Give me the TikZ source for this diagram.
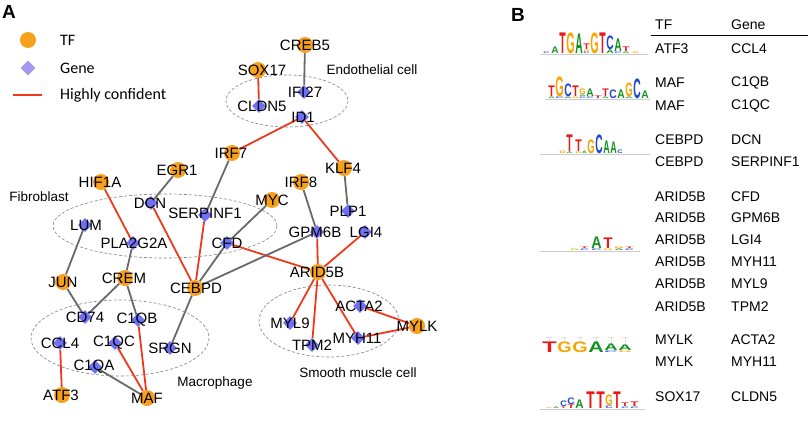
\documentclass[tikz,border=0pt]{standalone}
\usepackage{fontspec}
\setmainfont{Liberation Sans}
\newfontfamily\legfont{Carlito}
\usetikzlibrary{shapes.geometric,backgrounds}
\definecolor{tforange}{RGB}{247,160,28}
\definecolor{genecol}{RGB}{112,112,245}
\definecolor{legdiam}{RGB}{165,150,240}
\definecolor{hcred}{RGB}{238,58,28}
\definecolor{edgegray}{RGB}{105,105,105}
\definecolor{lA}{RGB}{20,145,30}
\definecolor{lC}{RGB}{30,70,210}
\definecolor{lG}{RGB}{247,165,0}
\definecolor{lT}{RGB}{232,25,25}
\newcounter{lgc}
\newcommand\LL[6]{\stepcounter{lgc}\node[anchor=base west,inner sep=0pt,outer sep=0pt,text=#5] (lg\thelgc) at (#1+0.3,#2-0.2) {\resizebox{\dimexpr #3pt-0.6pt\relax}{\dimexpr #4pt-0.4pt\relax}{\bfseries #6}};}
\newcommand\TFn[4]{\node[tf] (#1) at (#2) {}; \node[lbl] (#1-l) at (#3) {#4};}
\newcommand\GNn[4]{\node[gene] (#1) at (#2) {}; \node[lbl] (#1-l) at (#3) {#4};}
\tikzset{
  tf/.style={circle,fill=tforange,minimum size=16pt,inner sep=0pt},
  gene/.style={diamond,fill=genecol,minimum size=14pt,inner sep=0pt},
  lbl/.style={font=\fontsize{15}{15}\selectfont,inner sep=0pt},
  reg/.style={font=\fontsize{13.5}{14}\selectfont,inner sep=0pt},
  hc/.style={draw=hcred,line width=1.8pt},
  gr/.style={draw=edgegray,line width=1.8pt},
  cell/.style={draw=gray,dash pattern=on 3pt off 2pt,line width=0.6pt},
  tab/.style={font=\fontsize{14}{14}\selectfont,inner sep=0pt,anchor=west},
  axisl/.style={draw=gray!40,line width=0.7pt},
}
\begin{document}
\begin{tikzpicture}[x=1pt,y=-1pt]
\useasboundingbox (0,0) rectangle (809,423);
% panel letters
\node[font=\fontsize{19}{19}\selectfont\bfseries,inner sep=0pt,anchor=west] (pA) at (2,12) {A};
\node[font=\fontsize{19}{19}\selectfont\bfseries,inner sep=0pt,anchor=west] (pB) at (511,15) {B};
% legend
\node[tf] (legtf) at (28,40) {};
\node[diamond,fill=legdiam,minimum size=15pt,inner sep=0pt] (leggene) at (28,68) {};
\coordinate (legl1) at (13,95);
\coordinate (legl2) at (42,95);
\draw[hc,line width=2.2pt] (legl1) -- (legl2);
\node[font=\legfont\fontsize{16}{16}\selectfont,inner sep=0pt,anchor=west] (legt1) at (60,40) {TF};
\node[font=\legfont\fontsize{16}{16}\selectfont,inner sep=0pt,anchor=west] (legt2) at (60,68) {Gene};
\node[font=\legfont\fontsize{16}{16}\selectfont,inner sep=0pt,anchor=west] (legt3) at (60,95) {Highly confident};
% cell ellipses
\draw[cell] (287,101) ellipse [x radius=61, y radius=26];
\draw[cell] (165,226) ellipse [x radius=112, y radius=32];
\draw[cell] (120,338) ellipse [x radius=89, y radius=38];
\draw[cell] (329,321) ellipse [x radius=70, y radius=36];
\node[reg] (rEndo) at (372,70) {Endothelial cell};
\node[reg] (rFib) at (39,197) {Fibroblast};
\node[reg] (rMac) at (215,383) {Macrophage};
\node[reg] (rSmc) at (358,373) {Smooth muscle cell};
% nodes
\TFn{creb5}{305,45}{305,45}{CREB5}
\TFn{sox17}{258,70}{262,70}{SOX17}
\GNn{cldn5}{259,106}{262,106}{CLDN5}
\GNn{ifi27}{304,92}{305,92}{IFI27}
\GNn{id1}{302,117}{303,117}{ID1}
\TFn{irf7}{232,153}{231,153}{IRF7}
\TFn{egr1}{178,170}{177,170}{EGR1}
\TFn{hif1a}{101,182}{100,182}{HIF1A}
\TFn{klf4}{344,168}{343,168}{KLF4}
\TFn{irf8}{301,182}{301,182}{IRF8}
\TFn{myc}{272,200}{272,200}{MYC}
\GNn{dcn}{151,203}{150,203}{DCN}
\GNn{serpinf1}{205,215}{205,213}{SERPINF1}
\GNn{plp1}{348,211}{348,211}{PLP1}
\GNn{lum}{85,225}{86,225}{LUM}
\GNn{pla2g2a}{133,243}{134,243}{PLA2G2A}
\GNn{cfd}{227,243}{227,243}{CFD}
\GNn{gpm6b}{317,232}{315,232}{GPM6B}
\GNn{lgi4}{365,232}{366,232}{LGI4}
\TFn{arid5b}{318,272}{317,272}{ARID5B}
\TFn{jun}{63,282}{63,282}{JUN}
\TFn{crem}{125,278}{124,278}{CREM}
\TFn{cebpd}{195,288}{196,288}{CEBPD}
\GNn{cd74}{85,317}{85,317}{CD74}
\GNn{c1qb}{138,320}{137,320}{C1QB}
\GNn{acta2}{360,306}{359,306}{ACTA2}
\TFn{mylk}{417,326}{417,326}{MYLK}
\GNn{myl9}{290,323}{290,323}{MYL9}
\GNn{myh11}{358,338}{357,338}{MYH11}
\GNn{tpm2}{312,345}{312,345}{TPM2}
\GNn{ccl4}{60,343}{60,343}{CCL4}
\GNn{c1qc}{115,343}{114,343}{C1QC}
\GNn{srgn}{170,348}{170,348}{SRGN}
\GNn{c1qa}{95,367}{94,367}{C1QA}
\TFn{atf3}{62,395}{61,395}{ATF3}
\TFn{maf}{147,398}{147,398}{MAF}
% edges
\begin{pgfonlayer}{background}
\draw[hc] (sox17) -- (cldn5);
\draw[hc] (irf7) -- (id1);
\draw[hc] (id1) -- (klf4);
\draw[hc] (hif1a) -- (pla2g2a);
\draw[hc] (dcn) -- (cebpd);
\draw[hc] (serpinf1) -- (cebpd);
\draw[hc] (cfd) -- (arid5b);
\draw[hc] (gpm6b) -- (arid5b);
\draw[hc] (lgi4) -- (arid5b);
\draw[hc] (arid5b) -- (myl9);
\draw[hc] (arid5b) -- (tpm2);
\draw[hc] (arid5b) -- (myh11);
\draw[hc] (acta2) -- (mylk);
\draw[hc] (myh11) -- (mylk);
\draw[hc] (ccl4) -- (atf3);
\draw[hc] (c1qc) -- (maf);
\draw[hc] (c1qb) -- (maf);
\draw[gr] (creb5) -- (ifi27);
\draw[gr] (irf7) -- (serpinf1);
\draw[gr] (egr1) -- (dcn);
\draw[gr] (myc) -- (cfd);
\draw[gr] (cfd) -- (cebpd);
\draw[gr] (cebpd) -- (gpm6b);
\draw[gr] (irf8) -- (gpm6b);
\draw[gr] (klf4) -- (plp1);
\draw[gr] (lum) -- (jun);
\draw[gr] (jun) -- (cd74);
\draw[gr] (crem) -- (cd74);
\draw[gr] (crem) -- (pla2g2a);
\draw[gr] (crem) -- (c1qb);
\draw[gr] (cebpd) -- (srgn);
\draw[gr] (c1qa) -- (maf);
\end{pgfonlayer}
% table
\node[tab] (hTF) at (655,25) {TF};
\node[tab] (hGene) at (731,25) {Gene};
\coordinate (hl1) at (651,35);
\coordinate (hl2) at (808,35);
\draw[line width=1pt] (hl1) -- (hl2);
\node[tab] (a1) at (655,49) {ATF3};     \node[tab] (b1) at (731,49) {CCL4};
\node[tab] (a2) at (655,83) {MAF};      \node[tab] (b2) at (731,83) {C1QB};
\node[tab] (a3) at (655,106) {MAF};     \node[tab] (b3) at (731,106) {C1QC};
\node[tab] (a4) at (655,140) {CEBPD};   \node[tab] (b4) at (731,140) {DCN};
\node[tab] (a5) at (655,162) {CEBPD};   \node[tab] (b5) at (731,162) {SERPINF1};
\node[tab] (a6) at (655,197) {ARID5B};  \node[tab] (b6) at (731,197) {CFD};
\node[tab] (a7) at (655,218) {ARID5B};  \node[tab] (b7) at (731,218) {GPM6B};
\node[tab] (a8) at (655,240) {ARID5B};  \node[tab] (b8) at (731,240) {LGI4};
\node[tab] (a9) at (655,262) {ARID5B};  \node[tab] (b9) at (731,262) {MYH11};
\node[tab] (a10) at (655,284) {ARID5B}; \node[tab] (b10) at (731,284) {MYL9};
\node[tab] (a11) at (655,307) {ARID5B}; \node[tab] (b11) at (731,307) {TPM2};
\node[tab] (a12) at (655,340) {MYLK};   \node[tab] (b12) at (731,340) {ACTA2};
\node[tab] (a13) at (655,362) {MYLK};   \node[tab] (b13) at (731,362) {MYH11};
\node[tab] (a14) at (655,397) {SOX17};  \node[tab] (b14) at (731,397) {CLDN5};
% logo 1 (ATF3)
\draw[axisl] (540,54.5) -- (648,54.5);
\LL{543}{54}{7}{2}{lC}{C}\LL{551}{54}{8}{7}{lA}{A}
\LL{559}{54}{7}{21}{lT}{T}\LL{566}{54}{9}{21}{lG}{G}\LL{575}{54}{8}{20}{lA}{A}
\LL{583}{54}{7}{2}{lC}{C}\LL{583}{52}{7}{2}{lG}{G}\LL{583}{50}{7}{6}{lT}{T}
\LL{590}{54}{9}{21}{lG}{G}\LL{599}{54}{7}{21}{lT}{T}
\LL{606}{54}{8}{4}{lA}{A}\LL{606}{50}{8}{14}{lC}{C}
\LL{614}{54}{8}{2}{lC}{C}\LL{614}{52}{8}{13}{lA}{A}
\LL{622}{54}{8}{2}{lA}{A}\LL{622}{52}{8}{5}{lT}{T}
\LL{632}{54}{7}{2}{lG}{G}
% logo 2 (MAF)
\draw[axisl] (545,99.5) -- (650,99.5);
\LL{548}{99}{7}{2}{lA}{A}\LL{548}{97}{7}{11}{lT}{T}
\LL{555}{99}{9}{2}{lC}{C}\LL{555}{97}{9}{20}{lG}{G}
\LL{564}{99}{8}{2}{lA}{A}\LL{564}{97}{8}{13}{lC}{C}
\LL{572}{99}{7}{2}{lG}{G}\LL{572}{97}{7}{11}{lT}{T}
\LL{579}{99}{7}{2}{lC}{C}\LL{579}{97}{7}{2}{lA}{A}\LL{579}{95}{7}{6}{lG}{G}
\LL{586}{99}{8}{2}{lC}{C}\LL{586}{97}{8}{8}{lA}{A}
\LL{594}{99}{8}{3}{lT}{T}
\LL{602}{99}{7}{2}{lA}{A}\LL{602}{97}{7}{8}{lT}{T}
\LL{609}{99}{8}{9}{lC}{C}\LL{617}{99}{8}{9}{lA}{A}
\LL{625}{99}{8}{2}{lA}{A}\LL{625}{97}{8}{14}{lG}{G}
\LL{633}{99}{8}{20}{lC}{C}\LL{641}{99}{8}{8}{lA}{A}
% logo 3 (CEBPD)
\draw[axisl] (540,154.5) -- (650,154.5);
\LL{559}{154}{7}{3}{lG}{G}
\LL{566}{154}{7}{2}{lA}{A}\LL{566}{152}{7}{17}{lT}{T}
\LL{575}{154}{7}{2}{lG}{G}\LL{575}{152}{7}{12}{lT}{T}
\LL{582}{154}{5}{3}{lA}{A}
\LL{587}{154}{8}{14}{lG}{G}\LL{595}{154}{8}{19}{lC}{C}
\LL{603}{154}{7}{13}{lA}{A}\LL{610}{154}{7}{12}{lA}{A}
\LL{617}{154}{6}{4}{lC}{C}
% logo 4 (ARID5B)
\draw[axisl] (540,251.5) -- (640,251.5);
\LL{570}{251}{9}{2}{lG}{G}\LL{580}{251}{9}{2}{lC}{C}\LL{580}{249}{9}{2}{lT}{T}
\LL{591}{251}{11}{2}{lC}{C}\LL{591}{249}{11}{12}{lA}{A}
\LL{603}{251}{10}{2}{lG}{G}\LL{603}{249}{10}{11}{lT}{T}
\LL{614}{251}{10}{2}{lA}{A}\LL{614}{249}{10}{2}{lG}{G}
\LL{625}{251}{9}{2}{lC}{C}\LL{625}{249}{9}{2}{lT}{T}
% logo 5 (MYLK)
\foreach \bx/\bt in {549/342,564/342,580/342,596/342,611/345,625/346}{
  \draw[gray!25,line width=0.7pt] (\bx,\bt) -- (\bx,337) (\bx-3,337) -- (\bx+3,337);
}
\LL{542}{353}{15}{11}{lT}{T}\LL{557}{353}{15}{11}{lG}{G}\LL{572}{353}{16}{11}{lG}{G}
\LL{588}{353}{16}{11}{lA}{A}
\LL{604}{353}{14}{2}{lC}{C}\LL{604}{351}{14}{7}{lA}{A}
\LL{618}{353}{14}{2}{lG}{G}\LL{618}{351}{14}{6}{lA}{A}
% logo 6 (SOX17)
\draw[axisl] (540,409.5) -- (645,409.5);
\LL{546}{409}{6}{1.5}{lG}{G}\LL{553}{409}{6}{2}{lA}{A}
\LL{560}{409}{7}{2}{lT}{T}\LL{560}{407}{7}{6}{lC}{C}
\LL{567}{409}{8}{4}{lT}{T}\LL{567}{405}{8}{7}{lC}{C}
\LL{575}{409}{9}{9}{lA}{A}
\LL{586}{409}{9}{17}{lT}{T}\LL{596}{409}{9}{17}{lT}{T}
\LL{605}{409}{8}{3}{lC}{C}\LL{605}{406}{8}{11}{lG}{G}
\LL{613}{409}{8}{17}{lT}{T}
\LL{621}{409}{8}{2}{lC}{C}\LL{621}{407}{8}{4}{lT}{T}
\LL{630}{409}{9}{2}{lC}{C}\LL{630}{407}{9}{5}{lT}{T}
\end{tikzpicture}
\end{document}
